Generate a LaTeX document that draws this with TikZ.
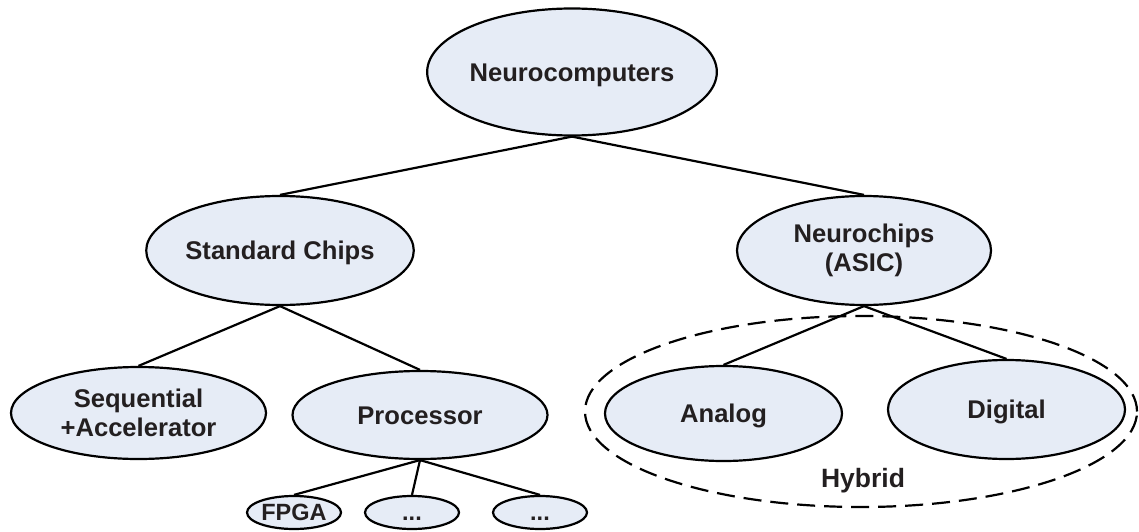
\documentclass[tikz,border=0pt]{standalone}
\usepackage{fontspec}
\setmainfont{Liberation Sans}
\usetikzlibrary{shapes.geometric}
\definecolor{bubblefill}{RGB}{230,236,246}
\definecolor{ink}{RGB}{35,31,32}
\tikzset{
  bubble/.style={ellipse, draw=black, line width=2.2pt, fill=bubblefill, inner sep=0pt,
    text=ink, align=center, font=\bfseries\fontsize{25.6}{29}\selectfont},
  oneline/.style={text height=18.3pt, text depth=0pt},
  leaf/.style={font=\bfseries\fontsize{23.5}{28}\selectfont, text height=16.8pt, text depth=0pt,
    minimum width=94pt, minimum height=33pt},
  link/.style={line width=2.2pt, draw=black},
  grouping/.style={ellipse, draw=black, line width=2.2pt, dash pattern=on 18pt off 9pt, inner sep=0pt}
}
\begin{document}
\begin{tikzpicture}[x=1pt, y=-1pt]
  \useasboundingbox (0,0) rectangle (1139,532);

  % dashed group around the two neurochip kinds
  \node[grouping, minimum width=552pt, minimum height=191pt] (ring) at (861,411.5) {};
  \node[anchor=base, text=ink, font=\bfseries\fontsize{26.5}{30}\selectfont] (hybrid) at (863,487) {Hybrid};

  % tree nodes
  \node[bubble, oneline, minimum width=253pt, minimum height=127pt] (top) at (572,72) {Neurocomputers};
  \node[bubble, oneline, minimum width=253pt, minimum height=109pt] (std) at (280,250.5) {Standard Chips};
  \node[bubble, minimum width=254pt, minimum height=109pt] (asic) at (864,250.5) {Neurochips\\(ASIC)};
  \node[bubble, minimum width=255pt, minimum height=92pt] (seq) at (138.5,413) {Sequential\\+Accelerator};
  \node[bubble, oneline, minimum width=255pt, minimum height=88pt] (proc) at (420,415) {Processor};
  \node[bubble, oneline, minimum width=237pt, minimum height=95pt] (analog) at (723.5,413.5) {Analog};
  \node[bubble, oneline, minimum width=237pt, minimum height=99pt] (digital) at (1006.5,409.5) {Digital};
  \node[bubble, leaf] (fpga) at (294,512.5) {FPGA};
  \node[bubble, leaf] (dotsA) at (412,512.5) {...};
  \node[bubble, leaf] (dotsB) at (540,512.5) {...};

  % connectors
  \draw[link] (top.south) -- (std.north);
  \draw[link] (top.south) -- (asic.north);
  \draw[link] (std.south) -- (seq.north);
  \draw[link] (std.south) -- (proc.north);
  \draw[link] (asic.south) -- (analog.north);
  \draw[link] (asic.south) -- (digital.north);
  \draw[link] (proc.south) -- (fpga.north);
  \draw[link] (proc.south) -- (dotsA.north);
  \draw[link] (proc.south) -- (dotsB.north);
\end{tikzpicture}
\end{document}
